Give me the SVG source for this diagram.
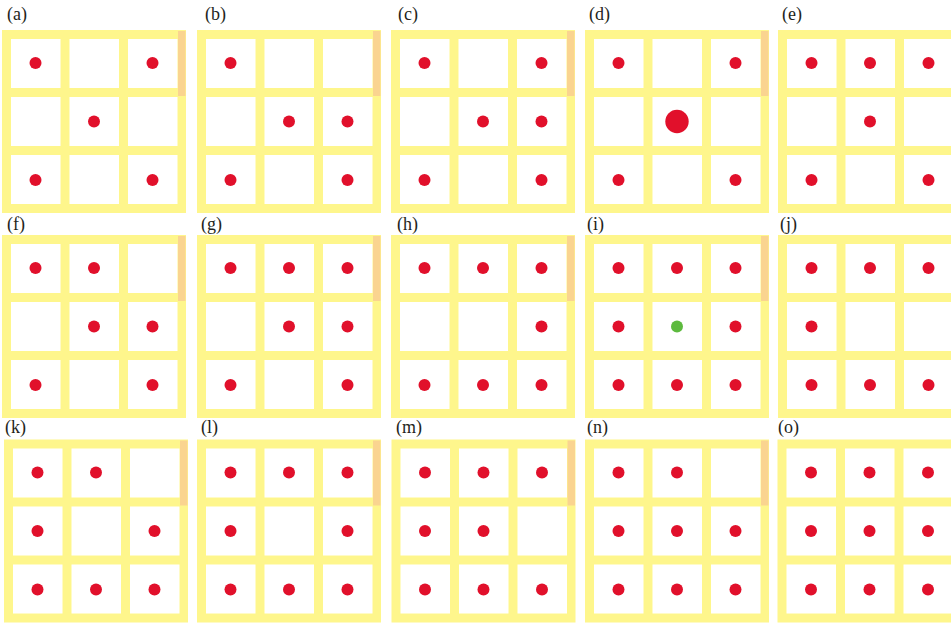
<svg xmlns="http://www.w3.org/2000/svg" xmlns:xlink="http://www.w3.org/1999/xlink" width="951" height="623" viewBox="0 0 951 623">
<style>
.frame{fill:#FEF68C}
.cell{fill:#FFFFFF}
.bar{fill:#FAD490}
.dot{fill:#E1102B}
.green{fill:#5DBA3E}
.lbl{font-family:"Liberation Serif","Times New Roman",serif;font-size:18px;fill:#231F20}
</style>
<defs>
<g id="grid">
<rect class="frame" x="0" y="0" width="184" height="183"/>
<rect class="cell" x="9" y="9" width="49.5" height="49"/>
<rect class="cell" x="67.5" y="9" width="49.5" height="49"/>
<rect class="cell" x="126" y="9" width="49.5" height="49"/>
<rect class="cell" x="9" y="67" width="49.5" height="49"/>
<rect class="cell" x="67.5" y="67" width="49.5" height="49"/>
<rect class="cell" x="126" y="67" width="49.5" height="49"/>
<rect class="cell" x="9" y="125" width="49.5" height="49"/>
<rect class="cell" x="67.5" y="125" width="49.5" height="49"/>
<rect class="cell" x="126" y="125" width="49.5" height="49"/>
</g>
<rect id="bar" class="bar" x="176" y="1" width="7.5" height="65"/>
</defs>
<rect x="0" y="0" width="951" height="623" fill="#FFFFFF"/>

<g id="labels">
<text class="lbl" x="7" y="19.5">(a)</text>
<text class="lbl" x="205" y="19.5">(b)</text>
<text class="lbl" x="398" y="19.5">(c)</text>
<text class="lbl" x="589" y="19.5">(d)</text>
<text class="lbl" x="782" y="19.5">(e)</text>
<text class="lbl" x="7" y="230">(f)</text>
<text class="lbl" x="201" y="230">(g)</text>
<text class="lbl" x="397" y="230">(h)</text>
<text class="lbl" x="587" y="230">(i)</text>
<text class="lbl" x="780" y="230">(j)</text>
<text class="lbl" x="5" y="433">(k)</text>
<text class="lbl" x="201" y="433">(l)</text>
<text class="lbl" x="396" y="433">(m)</text>
<text class="lbl" x="587" y="433">(n)</text>
<text class="lbl" x="778" y="433">(o)</text>
</g>

<g id="panel-a" transform="translate(2,30)">
<use href="#grid"/><use href="#bar"/>
<circle class="dot" cx="33.5" cy="33" r="6"/><circle class="dot" cx="150.5" cy="33" r="6"/>
<circle class="dot" cx="92" cy="91.5" r="6"/>
<circle class="dot" cx="33.5" cy="150" r="6"/><circle class="dot" cx="150.5" cy="150" r="6"/>
</g>
<g id="panel-b" transform="translate(197,30)">
<use href="#grid"/><use href="#bar"/>
<circle class="dot" cx="33.5" cy="33" r="6"/>
<circle class="dot" cx="92" cy="91.5" r="6"/><circle class="dot" cx="150.5" cy="91.5" r="6"/>
<circle class="dot" cx="33.5" cy="150" r="6"/><circle class="dot" cx="150.5" cy="150" r="6"/>
</g>
<g id="panel-c" transform="translate(391,30)">
<use href="#grid"/><use href="#bar"/>
<circle class="dot" cx="33.5" cy="33" r="6"/><circle class="dot" cx="150.5" cy="33" r="6"/>
<circle class="dot" cx="92" cy="91.5" r="6"/><circle class="dot" cx="150.5" cy="91.5" r="6"/>
<circle class="dot" cx="33.5" cy="150" r="6"/><circle class="dot" cx="150.5" cy="150" r="6"/>
</g>
<g id="panel-d" transform="translate(585,30)">
<use href="#grid"/><use href="#bar"/>
<circle class="dot" cx="33.5" cy="33" r="6"/><circle class="dot" cx="150.5" cy="33" r="6"/>
<circle class="dot" cx="92" cy="91.5" r="11.7"/>
<circle class="dot" cx="33.5" cy="150" r="6"/><circle class="dot" cx="150.5" cy="150" r="6"/>
</g>
<g id="panel-e" transform="translate(778,30)">
<use href="#grid"/>
<circle class="dot" cx="33.5" cy="33" r="6"/><circle class="dot" cx="92" cy="33" r="6"/><circle class="dot" cx="150.5" cy="33" r="6"/>
<circle class="dot" cx="92" cy="91.5" r="6"/>
<circle class="dot" cx="33.5" cy="150" r="6"/><circle class="dot" cx="150.5" cy="150" r="6"/>
</g>

<g id="panel-f" transform="translate(2,235)">
<use href="#grid"/><use href="#bar"/>
<circle class="dot" cx="33.5" cy="33" r="6"/><circle class="dot" cx="92" cy="33" r="6"/>
<circle class="dot" cx="92" cy="91.5" r="6"/><circle class="dot" cx="150.5" cy="91.5" r="6"/>
<circle class="dot" cx="33.5" cy="150" r="6"/><circle class="dot" cx="150.5" cy="150" r="6"/>
</g>
<g id="panel-g" transform="translate(197,235)">
<use href="#grid"/><use href="#bar"/>
<circle class="dot" cx="33.5" cy="33" r="6"/><circle class="dot" cx="92" cy="33" r="6"/><circle class="dot" cx="150.5" cy="33" r="6"/>
<circle class="dot" cx="92" cy="91.5" r="6"/><circle class="dot" cx="150.5" cy="91.5" r="6"/>
<circle class="dot" cx="33.5" cy="150" r="6"/><circle class="dot" cx="150.5" cy="150" r="6"/>
</g>
<g id="panel-h" transform="translate(391,235)">
<use href="#grid"/><use href="#bar"/>
<circle class="dot" cx="33.5" cy="33" r="6"/><circle class="dot" cx="92" cy="33" r="6"/><circle class="dot" cx="150.5" cy="33" r="6"/>
<circle class="dot" cx="150.5" cy="91.5" r="6"/>
<circle class="dot" cx="33.5" cy="150" r="6"/><circle class="dot" cx="92" cy="150" r="6"/><circle class="dot" cx="150.5" cy="150" r="6"/>
</g>
<g id="panel-i" transform="translate(585,235)">
<use href="#grid"/><use href="#bar"/>
<circle class="dot" cx="33.5" cy="33" r="6"/><circle class="dot" cx="92" cy="33" r="6"/><circle class="dot" cx="150.5" cy="33" r="6"/>
<circle class="dot" cx="33.5" cy="91.5" r="6"/><circle class="green" cx="92" cy="91.5" r="6"/><circle class="dot" cx="150.5" cy="91.5" r="6"/>
<circle class="dot" cx="33.5" cy="150" r="6"/><circle class="dot" cx="92" cy="150" r="6"/><circle class="dot" cx="150.5" cy="150" r="6"/>
</g>
<g id="panel-j" transform="translate(778,235)">
<use href="#grid"/>
<circle class="dot" cx="33.5" cy="33" r="6"/><circle class="dot" cx="92" cy="33" r="6"/><circle class="dot" cx="150.5" cy="33" r="6"/>
<circle class="dot" cx="33.5" cy="91.5" r="6"/>
<circle class="dot" cx="33.5" cy="150" r="6"/><circle class="dot" cx="92" cy="150" r="6"/><circle class="dot" cx="150.5" cy="150" r="6"/>
</g>

<g id="panel-k" transform="translate(4,439.5)">
<use href="#grid"/><use href="#bar"/>
<circle class="dot" cx="33.5" cy="33" r="6"/><circle class="dot" cx="92" cy="33" r="6"/>
<circle class="dot" cx="33.5" cy="91.5" r="6"/><circle class="dot" cx="150.5" cy="91.5" r="6"/>
<circle class="dot" cx="33.5" cy="150" r="6"/><circle class="dot" cx="92" cy="150" r="6"/><circle class="dot" cx="150.5" cy="150" r="6"/>
</g>
<g id="panel-l" transform="translate(197,439.5)">
<use href="#grid"/><use href="#bar"/>
<circle class="dot" cx="33.5" cy="33" r="6"/><circle class="dot" cx="92" cy="33" r="6"/><circle class="dot" cx="150.5" cy="33" r="6"/>
<circle class="dot" cx="33.5" cy="91.5" r="6"/><circle class="dot" cx="150.5" cy="91.5" r="6"/>
<circle class="dot" cx="33.5" cy="150" r="6"/><circle class="dot" cx="92" cy="150" r="6"/><circle class="dot" cx="150.5" cy="150" r="6"/>
</g>
<g id="panel-m" transform="translate(391.5,439.5)">
<use href="#grid"/><use href="#bar"/>
<circle class="dot" cx="33.5" cy="33" r="6"/><circle class="dot" cx="92" cy="33" r="6"/><circle class="dot" cx="150.5" cy="33" r="6"/>
<circle class="dot" cx="33.5" cy="91.5" r="6"/><circle class="dot" cx="92" cy="91.5" r="6"/>
<circle class="dot" cx="33.5" cy="150" r="6"/><circle class="dot" cx="92" cy="150" r="6"/><circle class="dot" cx="150.5" cy="150" r="6"/>
</g>
<g id="panel-n" transform="translate(585,439.5)">
<use href="#grid"/><use href="#bar"/>
<circle class="dot" cx="33.5" cy="33" r="6"/><circle class="dot" cx="92" cy="33" r="6"/>
<circle class="dot" cx="33.5" cy="91.5" r="6"/><circle class="dot" cx="92" cy="91.5" r="6"/><circle class="dot" cx="150.5" cy="91.5" r="6"/>
<circle class="dot" cx="33.5" cy="150" r="6"/><circle class="dot" cx="92" cy="150" r="6"/><circle class="dot" cx="150.5" cy="150" r="6"/>
</g>
<g id="panel-o" transform="translate(777.5,439.5)">
<use href="#grid"/>
<circle class="dot" cx="33.5" cy="33" r="6"/><circle class="dot" cx="92" cy="33" r="6"/><circle class="dot" cx="150.5" cy="33" r="6"/>
<circle class="dot" cx="33.5" cy="91.5" r="6"/><circle class="dot" cx="92" cy="91.5" r="6"/><circle class="dot" cx="150.5" cy="91.5" r="6"/>
<circle class="dot" cx="33.5" cy="150" r="6"/><circle class="dot" cx="92" cy="150" r="6"/><circle class="dot" cx="150.5" cy="150" r="6"/>
</g>
<g id="connectors"/>
</svg>
